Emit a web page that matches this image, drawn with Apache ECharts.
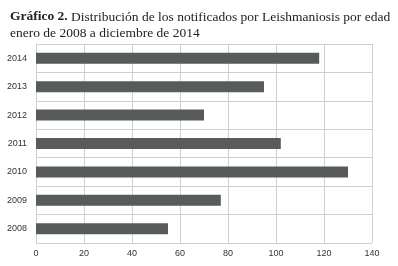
<!DOCTYPE html>
<html>
<head>
<meta charset="utf-8">
<script src="https://cdn.jsdelivr.net/npm/echarts@6/dist/echarts.min.js"></script>
<style>
  html, body { margin: 0; padding: 0; background: #fff; }
  #main { width: 398px; height: 266px; }
</style>
</head>
<body>
<div id="main"></div>
<script>
const years = ["2008", "2009", "2010", "2011", "2012", "2013", "2014"];
const counts = [55, 77, 130, 102, 70, 95, 118];
const xTicks = [0, 20, 40, 60, 80, 100, 120, 140];

let myChart = echarts.init(document.getElementById("main"));
let option = {
  animation: false,
  title: {
    left: 5,
    top: 4,
    text: "{b|Gráfico 2.} Distribución de los notificados por Leishmaniosis por edad\nenero de 2008 a diciembre de 2014",
    textStyle: {
      fontFamily: "Liberation Serif",
      fontSize: 13.5,
      fontWeight: "normal",
      color: "#222",
      lineHeight: 16,
      rich: {
        b: { fontFamily: "Liberation Serif", fontSize: 13.5, fontWeight: "bold", color: "#222" }
      }
    }
  },
  grid: { left: 36, right: 26, top: 44, bottom: 23 },
  xAxis: {
    type: "value",
    min: xTicks[0],
    max: xTicks[xTicks.length - 1],
    interval: 20,
    axisLine: { show: false },
    axisTick: { show: false },
    axisLabel: { color: "#333", fontSize: 9, fontFamily: "Liberation Sans", margin: 6 },
    splitLine: { show: true, lineStyle: { color: "#cfcfcf", width: 1 } }
  },
  yAxis: {
    type: "category",
    data: years,
    axisLine: { show: true, lineStyle: { color: "#cfcfcf" } },
    axisTick: { show: false },
    axisLabel: { color: "#333", fontSize: 9, fontFamily: "Liberation Sans", margin: 9 },
    splitLine: { show: true, lineStyle: { color: "#cfcfcf", width: 1 } }
  },
  series: [
    {
      type: "bar",
      data: counts,
      barWidth: 11,
      itemStyle: { color: "#575b59" }
    }
  ]
};
myChart.setOption(option);
</script>
</body>
</html>
